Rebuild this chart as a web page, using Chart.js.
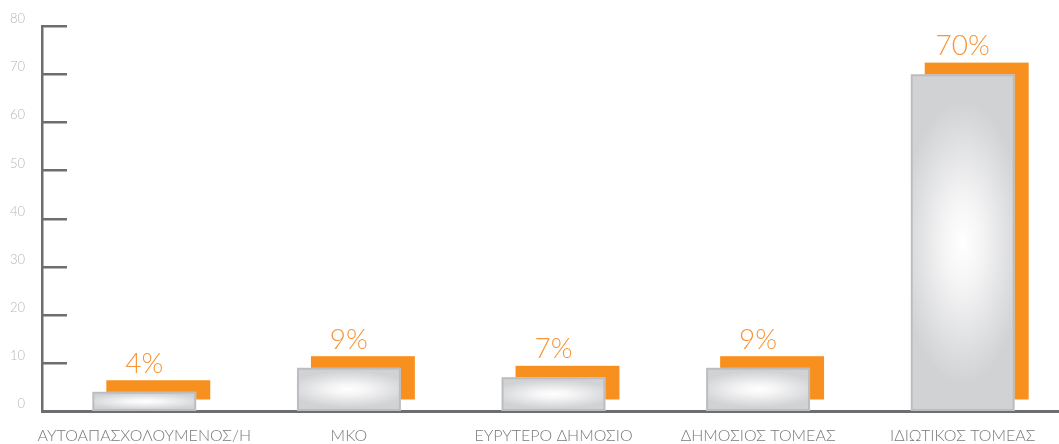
<!DOCTYPE html>
<html>
<head>
<meta charset="utf-8">
<script src="https://cdn.jsdelivr.net/npm/chart.js@4/dist/chart.umd.min.js"></script>
<style>
  html, body { margin: 0; padding: 0; background: #fff; overflow: hidden; }
  #wrap { width: 1065px; height: 444px; position: relative; }
</style>
</head>
<body>
<div id="wrap"><canvas id="sectorChart"></canvas></div>
<script>
// Κατηγορίες και ποσοστά
const categories = ['ΑΥΤΟΑΠΑΣΧΟΛΟΥΜΕΝΟΣ/Η', 'ΜΚΟ', 'ΕΥΡΥΤΕΡΟ ΔΗΜΟΣΙΟ', 'ΔΗΜΟΣΙΟΣ ΤΟΜΕΑΣ', 'ΙΔΙΩΤΙΚΟΣ ΤΟΜΕΑΣ'];
const percentages = [4, 9, 7, 9, 70];
const yTicks = [0, 10, 20, 30, 40, 50, 60, 70, 80];

const AXIS = '#6d6e71';
const ORANGE = '#f7901e';
const FONT = "Lato, 'Open Sans', 'DejaVu Sans', sans-serif";

// Πορτοκαλί "σκιά", γκρι ντεγκραντέ και μικρά ticks μέσα στο γράφημα
const decorPlugin = {
  id: 'decor',
  beforeDatasetsDraw(chart) {
    const ctx = chart.ctx;
    const meta = chart.getDatasetMeta(0);
    meta.data.forEach(bar => {
      const w = bar.width;
      const left = bar.x - w / 2;
      const top = bar.y;
      const h = bar.base - bar.y;

      ctx.save();
      ctx.fillStyle = ORANGE;
      ctx.fillRect(left + 14, top - 11.5, w, h);
      ctx.restore();

      ctx.save();
      ctx.beginPath();
      ctx.rect(left, top, w, h);
      ctx.clip();
      const rx = w * 0.6;
      const ry = Math.max(h * 0.42, 8);
      ctx.translate(bar.x, top + h / 2);
      ctx.scale(1, ry / rx);
      const g = ctx.createRadialGradient(0, 0, 0, 0, 0, rx);
      g.addColorStop(0, '#ffffff');
      g.addColorStop(0.3, '#f5f5f6');
      g.addColorStop(1, '#d1d2d4');
      ctx.fillStyle = g;
      ctx.fillRect(-w, -h * rx / ry, w * 2, h * 2 * rx / ry);
      ctx.restore();
    });
  },
  afterDatasetsDraw(chart) {
    const ctx = chart.ctx;
    const y = chart.scales.y;
    const left = chart.chartArea.left;
    ctx.save();
    ctx.strokeStyle = AXIS;
    ctx.lineWidth = 2.5;
    yTicks.forEach(v => {
      if (v === 0) return;
      const py = Math.round(y.getPixelForValue(v)) + 0.25;
      ctx.beginPath();
      ctx.moveTo(left, py);
      ctx.lineTo(left + 25, py);
      ctx.stroke();
    });
    // ετικέτες τιμών
    ctx.fillStyle = '#f6963a';
    ctx.font = '300 28px ' + FONT;
    ctx.textAlign = 'center';
    ctx.textBaseline = 'alphabetic';
    chart.getDatasetMeta(0).data.forEach((bar, i) => {
      ctx.fillText(percentages[i] + '%', bar.x, bar.y - 19);
    });
    ctx.restore();
  }
};

new Chart(document.getElementById('sectorChart'), {
  type: 'bar',
  data: {
    labels: categories,
    datasets: [{
      data: percentages,
      backgroundColor: 'rgba(0,0,0,0)',
      borderColor: '#bcbdc0',
      borderWidth: 2,
      borderSkipped: false,
      categoryPercentage: 1,
      barPercentage: 0.508
    }]
  },
  options: {
    responsive: true,
    maintainAspectRatio: false,
    animation: false,
    layout: { padding: { top: 26, left: 0, right: 0, bottom: 0 } },
    plugins: {
      legend: { display: false },
      tooltip: { enabled: false }
    },
    scales: {
      x: {
        afterFit(scale) { scale.height = 33; },
        grid: { display: false, drawTicks: false },
        border: { display: true, color: AXIS, width: 3 },
        ticks: {
          color: '#77787b',
          padding: 15,
          maxRotation: 0,
          autoSkip: false,
          font: { family: FONT, size: 16, weight: '300' }
        }
      },
      y: {
        min: 0,
        max: 80,
        afterFit(scale) { scale.width = 42; },
        afterBuildTicks(scale) { scale.ticks = yTicks.map(v => ({ value: v })); },
        grid: { display: false, drawTicks: false },
        border: { display: true, color: AXIS, width: 2.5 },
        ticks: {
          color: '#b5b6b8',
          padding: 17,
          labelOffset: -7,
          font: { family: FONT, size: 13, weight: '300' }
        }
      }
    }
  },
  plugins: [decorPlugin]
});
</script>
</body>
</html>
